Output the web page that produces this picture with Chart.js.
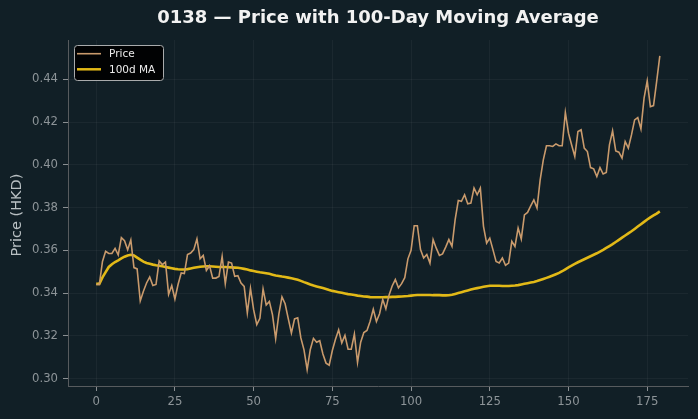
<!DOCTYPE html>
<html>
<head>
<meta charset="utf-8">
<script src="https://cdn.jsdelivr.net/npm/chart.js@4/dist/chart.umd.min.js"></script>
<style>
  html, body { margin: 0; padding: 0; background: #111f26; }
  #wrap { width: 698px; height: 419px; }
  canvas { display: block; }
</style>
</head>
<body>
<div id="wrap"><canvas id="c" width="698" height="419"></canvas></div>
<script>
const chartTitle = "0138 — Price with 100-Day Moving Average";
const yAxisLabel = "Price (HKD)";
const seriesNames = ["Price", "100d MA"];
const xTicks = [0, 25, 50, 75, 100, 125, 150, 175];
const yTicks = [0.30, 0.32, 0.34, 0.36, 0.38, 0.40, 0.42, 0.44];

const price = [
0.344,0.344,0.3548,0.3595,0.3585,0.3585,0.3609,0.3578,0.3659,0.3645,
0.3603,0.3648,0.3519,0.3513,0.3363,0.3408,0.3447,0.3475,0.3435,0.344,
0.355,0.3533,0.3545,0.3394,0.3435,0.3372,0.344,0.3494,0.3491,0.358,
0.3587,0.3603,0.3653,0.356,0.3576,0.3506,0.3528,0.347,0.347,0.3478,
0.3571,0.3444,0.3545,0.354,0.3478,0.3481,0.3447,0.3431,0.3307,0.3422,
0.3322,0.3252,0.3282,0.3419,0.3344,0.3361,0.3298,0.3187,0.330,0.3382,
0.335,0.328,0.3213,0.3279,0.3284,0.319,0.3134,0.3042,0.3136,0.3188,
0.317,0.3177,0.3115,0.3072,0.3062,0.3131,0.3184,0.3228,0.3167,0.3202,
0.3137,0.3137,0.3208,0.3075,0.317,0.3215,0.3225,0.3268,0.3324,0.3267,
0.3303,0.337,0.3326,0.339,0.3433,0.3463,0.3424,0.3444,0.3472,0.356,
0.360,0.3715,0.3715,0.3603,0.3564,0.358,0.354,0.365,0.361,0.3576,
0.3583,0.3615,0.365,0.3618,0.3743,0.3833,0.3829,0.386,0.3818,0.3821,
0.3891,0.386,0.3891,0.3712,0.3634,0.3657,0.3603,0.3548,0.3541,0.3564,
0.353,0.354,0.3642,0.3618,0.3704,0.3653,0.3766,0.3777,0.3808,0.3836,
0.3798,0.393,0.4023,0.4089,0.4089,0.4086,0.4098,0.4089,0.4089,0.4245,
0.4148,0.4093,0.4039,0.4156,0.4164,0.4078,0.4062,0.3987,0.3981,0.3945,
0.3987,0.3957,0.3964,0.4093,0.4159,0.4065,0.4059,0.4031,0.4109,0.4078,
0.414,0.421,0.4221,0.4168,0.4312,0.4393,0.4272,0.4277,0.439,0.451
];

const ma100 = [
0.3443,0.3443,0.3473,0.3498,0.3522,0.3535,0.3545,0.3553,0.3562,0.3570,
0.3576,0.3579,0.3576,0.3566,0.3556,0.3547,0.3541,0.3537,0.3533,0.3530,
0.3528,0.3525,0.3522,0.3519,0.3516,0.3513,0.3511,0.3510,0.3510,0.3512,
0.3515,0.3518,0.3521,0.3523,0.3524,0.3525,0.3525,0.3524,0.3523,0.3522,
0.3522,0.3522,0.3521,0.3520,0.3519,0.3518,0.3516,0.3513,0.3510,0.3506,
0.3503,0.3500,0.3497,0.3495,0.3493,0.3490,0.3486,0.3482,0.3480,0.3477,
0.3475,0.3472,0.3469,0.3466,0.3462,0.3457,0.3451,0.3446,0.3440,0.3435,
0.3431,0.3427,0.3423,0.3419,0.3414,0.3410,0.3407,0.3404,0.3401,0.3398,
0.3395,0.3393,0.3391,0.3388,0.3386,0.3384,0.3383,0.3381,0.3380,0.3380,
0.3380,0.3380,0.3381,0.3381,0.3382,0.3382,0.3383,0.3384,0.3385,0.3386,
0.3388,0.3390,0.3391,0.3391,0.3391,0.3391,0.3391,0.3390,0.3390,0.3390,
0.3389,0.3389,0.3390,0.3392,0.3396,0.3400,0.3404,0.3408,0.3412,0.3416,
0.3420,0.3423,0.3426,0.3429,0.3432,0.3434,0.3434,0.3434,0.3434,0.3433,
0.3433,0.3433,0.3434,0.3435,0.3437,0.3440,0.3443,0.3446,0.3449,0.3452,
0.3456,0.3461,0.3466,0.3471,0.3476,0.3482,0.3488,0.3494,0.3502,0.3511,
0.3520,0.3528,0.3536,0.3544,0.3551,0.3558,0.3565,0.3572,0.3579,0.3586,
0.3594,0.3602,0.3611,0.3620,0.3629,0.3639,0.3649,0.3659,0.3669,0.3679,
0.3689,0.3700,0.3711,0.3722,0.3733,0.3744,0.3754,0.3763,0.3772,0.3782
];

const days = price.map((_, i) => i);

const COLORS = {
  bg: '#111f26',
  price: '#c99a6c',
  ma: '#e2b917',
  grid: 'rgba(255,255,255,0.045)',
  spine: '#575b5e',
  tick: '#8a8f92',
  tickLabel: '#8d9498',
  axisLabel: '#b9c0c3',
  title: '#f2f2f2',
  legendText: '#ececec'
};
const FONT = '"DejaVu Sans", "Liberation Sans", sans-serif';

const decorPlugin = {
  id: 'decor',
  beforeDraw(chart) {
    const ctx = chart.ctx;
    ctx.save();
    ctx.fillStyle = COLORS.bg;
    ctx.fillRect(0, 0, chart.width, chart.height);
    ctx.restore();
  },
  afterDraw(chart) {
    const ctx = chart.ctx;
    const ca = chart.chartArea;
    ctx.save();
    // title
    ctx.fillStyle = COLORS.title;
    ctx.font = 'bold 18px ' + FONT;
    ctx.textAlign = 'center';
    ctx.textBaseline = 'middle';
    ctx.fillText(chartTitle, (ca.left + ca.right) / 2, 18);
    // y axis label
    ctx.save();
    ctx.translate(17, 215);
    ctx.rotate(-Math.PI / 2);
    ctx.fillStyle = COLORS.axisLabel;
    ctx.font = '14.5px ' + FONT;
    ctx.textAlign = 'center';
    ctx.textBaseline = 'middle';
    ctx.fillText(yAxisLabel, 0, 0);
    ctx.restore();
    // legend
    const lx = 74.5, ly = 45.5, lw = 89, lh = 35, r = 3;
    ctx.beginPath();
    ctx.moveTo(lx + r, ly);
    ctx.lineTo(lx + lw - r, ly);
    ctx.quadraticCurveTo(lx + lw, ly, lx + lw, ly + r);
    ctx.lineTo(lx + lw, ly + lh - r);
    ctx.quadraticCurveTo(lx + lw, ly + lh, lx + lw - r, ly + lh);
    ctx.lineTo(lx + r, ly + lh);
    ctx.quadraticCurveTo(lx, ly + lh, lx, ly + lh - r);
    ctx.lineTo(lx, ly + r);
    ctx.quadraticCurveTo(lx, ly, lx + r, ly);
    ctx.closePath();
    ctx.fillStyle = 'rgba(0,0,0,0.92)';
    ctx.fill();
    ctx.strokeStyle = '#a9abac';
    ctx.lineWidth = 1;
    ctx.stroke();
    const rows = [
      { name: seriesNames[0], color: COLORS.price, w: 1.6, y: 53.7 },
      { name: seriesNames[1], color: COLORS.ma, w: 2.5, y: 69.3 }
    ];
    ctx.font = '10.5px ' + FONT;
    ctx.textAlign = 'left';
    ctx.textBaseline = 'middle';
    rows.forEach(rw => {
      ctx.beginPath();
      ctx.moveTo(77, rw.y);
      ctx.lineTo(101, rw.y);
      ctx.strokeStyle = rw.color;
      ctx.lineWidth = rw.w;
      ctx.stroke();
      ctx.fillStyle = COLORS.legendText;
      ctx.fillText(rw.name, 109, rw.y + 0.5);
    });
    ctx.restore();
  }
};

new Chart(document.getElementById('c'), {
  type: 'line',
  data: {
    datasets: [
      {
        label: seriesNames[0],
        data: days.map((d, i) => ({ x: d, y: price[i] })),
        borderColor: COLORS.price,
        borderWidth: 1.6,
        pointRadius: 0,
        tension: 0,
        fill: false
      },
      {
        label: seriesNames[1],
        data: days.map((d, i) => ({ x: d, y: ma100[i] })),
        borderColor: COLORS.ma,
        borderWidth: 2.6,
        pointRadius: 0,
        tension: 0,
        fill: false
      }
    ]
  },
  options: {
    responsive: false,
    animation: false,
    devicePixelRatio: 1,
    layout: { padding: { top: 40, right: 10, left: 0, bottom: 0 } },
    plugins: {
      legend: { display: false },
      title: { display: false },
      tooltip: { enabled: false }
    },
    scales: {
      x: {
        type: 'linear',
        min: -8.95,
        max: 187.95,
        afterFit(s) { s.height = 33; },
        afterBuildTicks(s) { s.ticks = xTicks.map(v => ({ value: v })); },
        grid: { color: COLORS.grid, tickColor: COLORS.tick, tickLength: 5, lineWidth: 1 },
        border: { color: COLORS.spine, width: 1 },
        ticks: {
          color: COLORS.tickLabel,
          font: { family: FONT, size: 11.7 },
          padding: 4,
          maxRotation: 0,
          callback: v => String(v)
        }
      },
      y: {
        min: 0.2965,
        max: 0.4584,
        afterFit(s) { s.width = 68; },
        afterBuildTicks(s) { s.ticks = yTicks.map(v => ({ value: v })); },
        grid: { color: COLORS.grid, tickColor: COLORS.tick, tickLength: 5, lineWidth: 1 },
        border: { color: COLORS.spine, width: 1 },
        ticks: {
          color: COLORS.tickLabel,
          font: { family: FONT, size: 11.7 },
          padding: 5,
          callback: v => Number(v).toFixed(2)
        }
      }
    }
  },
  plugins: [decorPlugin]
});
</script>
</body>
</html>
